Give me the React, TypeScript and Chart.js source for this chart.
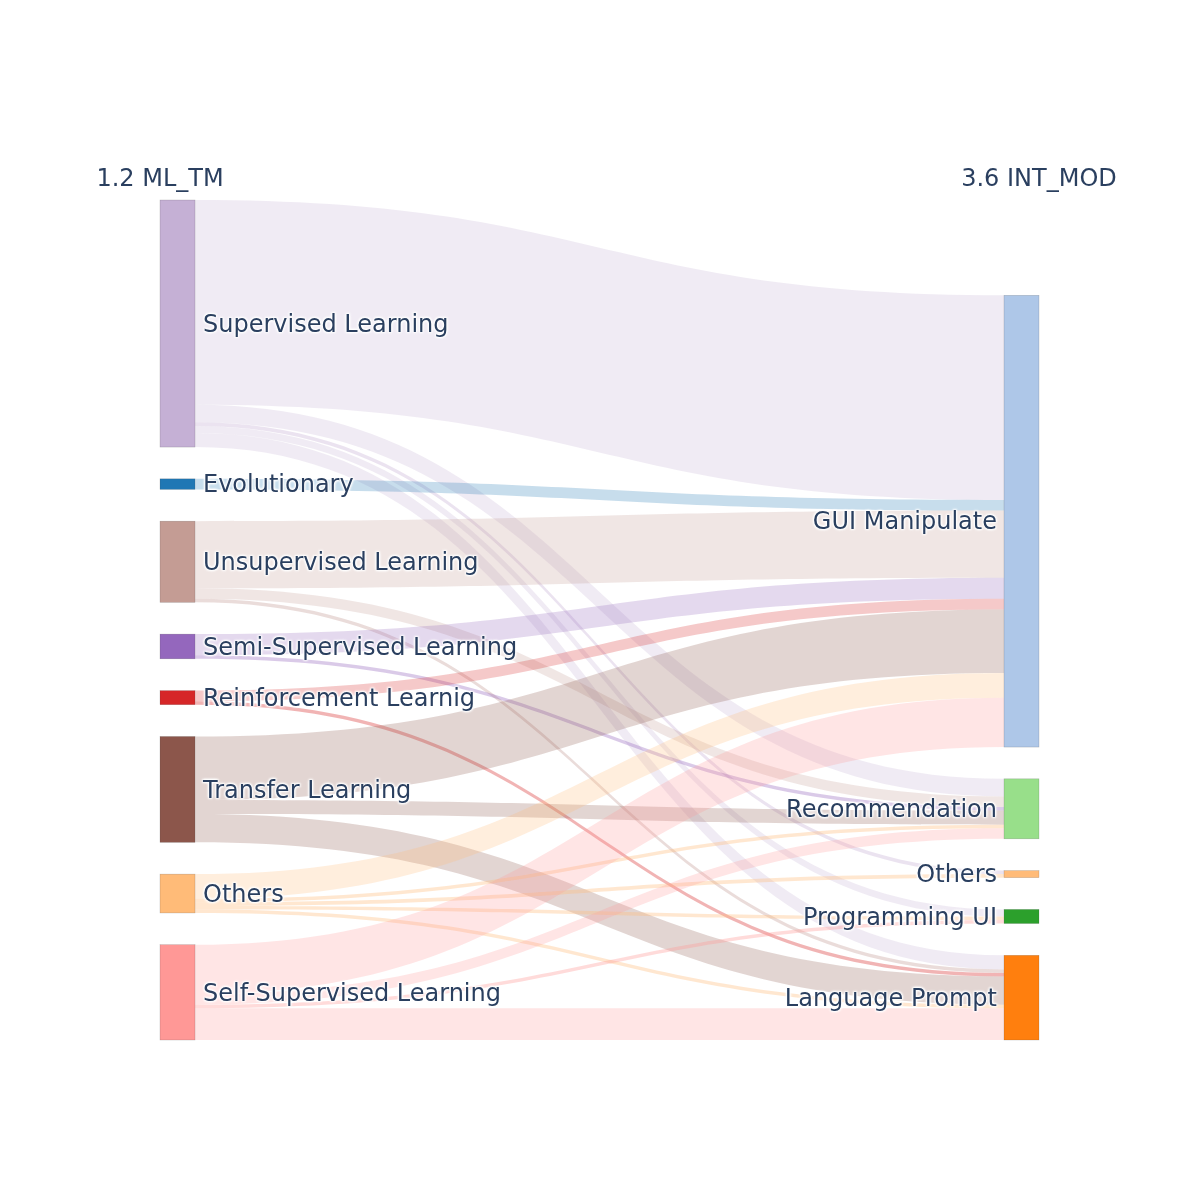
import { useEffect, useRef } from 'react';
import { Chart, registerables } from 'chart.js';

Chart.register(...registerables);

// Source column (left) and target column (right) of the flow diagram
const sourceLabels = [
  'Supervised Learning',
  'Evolutionary',
  'Unsupervised Learning',
  'Semi-Supervised Learning',
  'Reinforcement Learnig',
  'Transfer Learning',
  'Others',
  'Self-Supervised Learning',
];
const sourceColors = ['#c5b0d5', '#1f77b4', '#c49c94', '#9467bd', '#d62728', '#8c564b', '#ffbb78', '#ff9896'];

const targetLabels = ['GUI Manipulate', 'Recommendation', 'Others', 'Programming UI', 'Language Prompt'];
const targetColors = ['#aec7e8', '#98df8a', '#ffbb78', '#2ca02c', '#ff7f0e'];

// Links: source index -> target index with a flow value
const linkSource = [0, 0, 0, 0, 0, 1, 2, 2, 2, 3, 3, 4, 4, 5, 5, 5, 6, 6, 6, 6, 6, 7, 7, 7, 7];
const linkTarget = [0, 1, 2, 3, 4, 0, 0, 1, 4, 0, 1, 0, 4, 0, 1, 4, 0, 1, 2, 3, 4, 0, 1, 3, 4];
const linkValue = [58, 5, 1, 2, 4, 3, 19, 3, 1, 6, 1, 3, 1, 18, 4, 8, 7, 1, 1, 1, 1, 14, 3, 1, 9];

const columnTitles = ['1.2 ML_TM', '3.6 INT_MOD'];

const NODE_GAP = 9; // vertical gap between nodes, in value units
const NODE_WIDTH = 35; // px
const LINK_ALPHA = 0.25;
const THIN_LINK_ALPHA = 0.35; // single-unit flows are drawn a bit stronger
const TEXT_COLOR = '#2a3f5f';
const FONT = '24px "DejaVu Sans", Verdana, sans-serif';

const sum = (a: number[]) => a.reduce((s, v) => s + v, 0);

const sourceTotals = sourceLabels.map((_, i) => sum(linkValue.filter((_, k) => linkSource[k] === i)));
const targetTotals = targetLabels.map((_, j) => sum(linkValue.filter((_, k) => linkTarget[k] === j)));

const leftSpan = sum(sourceTotals) + NODE_GAP * (sourceLabels.length - 1);
const rightSpan = sum(targetTotals) + NODE_GAP * (targetLabels.length - 1);
const Y_MAX = Math.max(leftSpan, rightSpan);

function stackColumn(totals: number[], start: number) {
  const out: { y0: number; y1: number }[] = [];
  let y = start;
  totals.forEach((t) => {
    out.push({ y0: y, y1: y + t });
    y += t + NODE_GAP;
  });
  return out;
}

// Left column starts at the top, right column sits on the bottom edge
const sourceNodes = stackColumn(sourceTotals, 0);
const targetNodes = stackColumn(targetTotals, Y_MAX - rightSpan);

function hexToRgba(hex: string, a: number) {
  const n = parseInt(hex.slice(1), 16);
  return `rgba(${(n >> 16) & 255},${(n >> 8) & 255},${n & 255},${a})`;
}

function computeLinks() {
  const s0 = new Array(linkValue.length).fill(0);
  const t0 = new Array(linkValue.length).fill(0);
  sourceLabels.forEach((_, i) => {
    const ks = linkValue.map((_, k) => k).filter((k) => linkSource[k] === i).sort((a, b) => linkTarget[a] - linkTarget[b]);
    let y = sourceNodes[i].y0;
    ks.forEach((k) => {
      s0[k] = y;
      y += linkValue[k];
    });
  });
  targetLabels.forEach((_, j) => {
    const ks = linkValue.map((_, k) => k).filter((k) => linkTarget[k] === j).sort((a, b) => linkSource[a] - linkSource[b]);
    let y = targetNodes[j].y0;
    ks.forEach((k) => {
      t0[k] = y;
      y += linkValue[k];
    });
  });
  return linkValue.map((v, k) => ({ s0: s0[k], s1: s0[k] + v, t0: t0[k], t1: t0[k] + v, src: linkSource[k], v }));
}

function haloText(ctx: CanvasRenderingContext2D, text: string, x: number, y: number) {
  ctx.save();
  ctx.fillStyle = '#ffffff';
  ctx.shadowColor = '#ffffff';
  ctx.shadowBlur = 2;
  const offs = [
    [1, 1],
    [-1, -1],
    [1, -1],
    [-1, 1],
  ];
  offs.forEach(([dx, dy]) => {
    ctx.shadowOffsetX = dx;
    ctx.shadowOffsetY = dy;
    ctx.fillText(text, x, y);
  });
  ctx.restore();
  ctx.fillStyle = TEXT_COLOR;
  ctx.fillText(text, x, y);
}

const sankeyPlugin = {
  id: 'sankeyFlows',
  afterDatasetsDraw(chart: any) {
    const ctx: CanvasRenderingContext2D = chart.ctx;
    const xs = chart.scales.x;
    const ys = chart.scales.y;
    const leftX = xs.getPixelForValue(0);
    const rightX = xs.getPixelForValue(1);
    const x0 = leftX + NODE_WIDTH;
    const x1 = rightX - NODE_WIDTH;
    const xm = (x0 + x1) / 2;
    const py = (v: number) => ys.getPixelForValue(v);

    ctx.save();
    // flows
    computeLinks().forEach((l) => {
      const a0 = py(l.s0);
      const a1 = py(l.s1);
      const b0 = py(l.t0);
      const b1 = py(l.t1);
      ctx.beginPath();
      ctx.moveTo(x0, a0);
      ctx.bezierCurveTo(xm, a0, xm, b0, x1, b0);
      ctx.lineTo(x1, b1);
      ctx.bezierCurveTo(xm, b1, xm, a1, x0, a1);
      ctx.closePath();
      ctx.fillStyle = hexToRgba(sourceColors[l.src], l.v <= 1 ? THIN_LINK_ALPHA : LINK_ALPHA);
      ctx.fill();
    });

    // nodes
    ctx.lineWidth = 0.5;
    ctx.strokeStyle = 'rgba(68,68,68,0.35)';
    sourceNodes.forEach((n, i) => {
      const top = py(n.y0);
      const h = py(n.y1) - top;
      ctx.fillStyle = sourceColors[i];
      ctx.fillRect(leftX, top, NODE_WIDTH, h);
      ctx.strokeRect(leftX, top, NODE_WIDTH, h);
    });
    targetNodes.forEach((n, j) => {
      const top = py(n.y0);
      const h = py(n.y1) - top;
      ctx.fillStyle = targetColors[j];
      ctx.fillRect(x1, top, NODE_WIDTH, h);
      ctx.strokeRect(x1, top, NODE_WIDTH, h);
    });

    // node labels
    ctx.font = FONT;
    ctx.textBaseline = 'middle';
    ctx.textAlign = 'left';
    sourceNodes.forEach((n, i) => {
      haloText(ctx, sourceLabels[i], x0 + 8, (py(n.y0) + py(n.y1)) / 2 + 2);
    });
    ctx.textAlign = 'right';
    targetNodes.forEach((n, j) => {
      haloText(ctx, targetLabels[j], x1 - 7, (py(n.y0) + py(n.y1)) / 2 + 2);
    });

    // column titles
    ctx.textAlign = 'center';
    ctx.fillStyle = TEXT_COLOR;
    const titleY = chart.chartArea.top - 20;
    ctx.fillText(columnTitles[0], leftX, titleY);
    ctx.fillText(columnTitles[1], rightX, titleY);
    ctx.restore();
  },
};

export default function App() {
  const canvasRef = useRef<HTMLCanvasElement | null>(null);

  useEffect(() => {
    if (!canvasRef.current) return;
    const chart = new Chart(canvasRef.current, {
      type: 'scatter',
      data: { datasets: [{ data: [], pointRadius: 0 }] },
      options: {
        responsive: false,
        maintainAspectRatio: false,
        animation: false,
        layout: { padding: { left: 160, right: 161, top: 200, bottom: 160 } },
        scales: {
          x: { type: 'linear', display: false, min: 0, max: 1 },
          y: { type: 'linear', display: false, min: 0, max: Y_MAX, reverse: true },
        },
        plugins: { legend: { display: false }, tooltip: { enabled: false } },
      },
      plugins: [sankeyPlugin],
    });
    return () => chart.destroy();
  }, []);

  return (
    <div style={{ position: 'absolute', left: 0, top: 0, width: 1200, height: 1200, background: '#fff' }}>
      <canvas ref={canvasRef} width={1200} height={1200} />
    </div>
  );
}
